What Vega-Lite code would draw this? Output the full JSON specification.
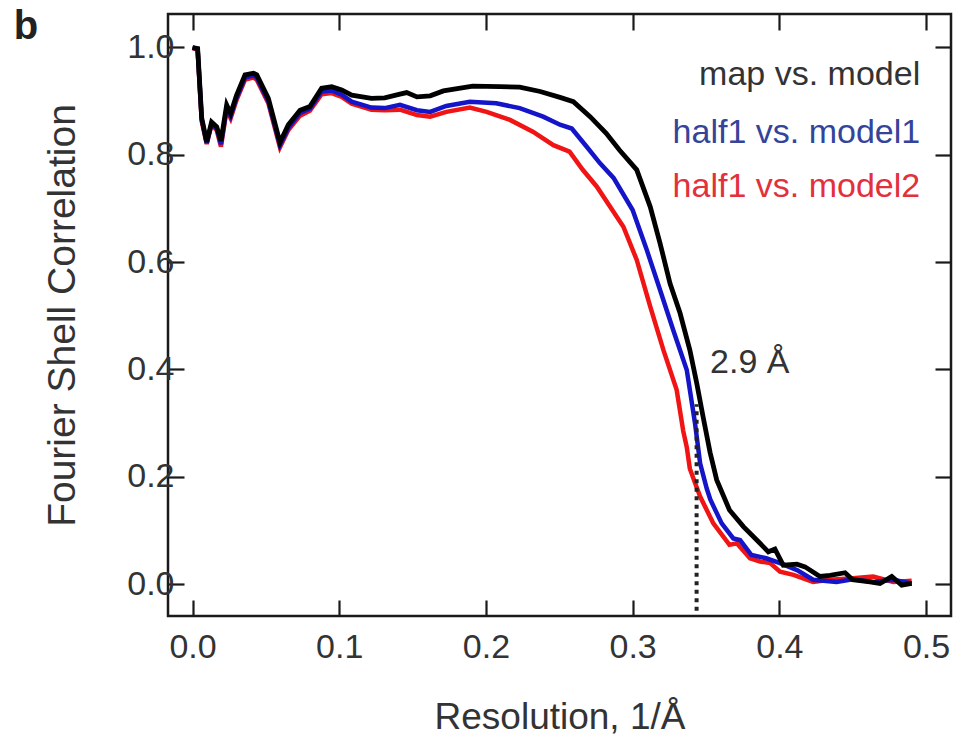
{
  "$schema": "https://vega.github.io/schema/vega-lite/v6.json",
  "width": 783,
  "height": 602,
  "autosize": {"type": "none"},
  "padding": {"left": 168, "top": 14, "right": 19, "bottom": 126},
  "background": "white",
  "config": {
    "view": {"stroke": "#1a1a1a", "strokeWidth": 2.5},
    "font": "Liberation Sans",
    "axis": {"grid": false, "domain": false, "tickColor": "#1a1a1a", "tickWidth": 2.2, "labelFont": "Liberation Sans", "titleFont": "Liberation Sans", "labelColor": "#333", "titleColor": "#333", "labelFontSize": 34, "titleFontSize": 36, "titleFontWeight": "normal"}
  },
  "datasets": {
    "fsc": [
      {"series": "map", "x": 0, "y": 1.0}, {"series": "map", "x": 0.0035, "y": 0.998}, {"series": "map", "x": 0.0063, "y": 0.868}, {"series": "map", "x": 0.0097, "y": 0.824}, {"series": "map", "x": 0.013, "y": 0.861}, {"series": "map", "x": 0.0165, "y": 0.852}, {"series": "map", "x": 0.0194, "y": 0.826}, {"series": "map", "x": 0.0233, "y": 0.893}, {"series": "map", "x": 0.026, "y": 0.877}, {"series": "map", "x": 0.03, "y": 0.911}, {"series": "map", "x": 0.0358, "y": 0.949}, {"series": "map", "x": 0.0415, "y": 0.952}, {"series": "map", "x": 0.0438, "y": 0.949}, {"series": "map", "x": 0.0517, "y": 0.905}, {"series": "map", "x": 0.0596, "y": 0.823}, {"series": "map", "x": 0.0653, "y": 0.856}, {"series": "map", "x": 0.0733, "y": 0.883}, {"series": "map", "x": 0.08, "y": 0.89}, {"series": "map", "x": 0.088, "y": 0.924}, {"series": "map", "x": 0.0949, "y": 0.927}, {"series": "map", "x": 0.1017, "y": 0.921}, {"series": "map", "x": 0.1085, "y": 0.911}, {"series": "map", "x": 0.122, "y": 0.905}, {"series": "map", "x": 0.131, "y": 0.906}, {"series": "map", "x": 0.1414, "y": 0.913}, {"series": "map", "x": 0.146, "y": 0.916}, {"series": "map", "x": 0.153, "y": 0.908}, {"series": "map", "x": 0.162, "y": 0.91}, {"series": "map", "x": 0.171, "y": 0.919}, {"series": "map", "x": 0.191, "y": 0.928}, {"series": "map", "x": 0.2096, "y": 0.927}, {"series": "map", "x": 0.223, "y": 0.926}, {"series": "map", "x": 0.237, "y": 0.918}, {"series": "map", "x": 0.2505, "y": 0.907}, {"series": "map", "x": 0.2596, "y": 0.899}, {"series": "map", "x": 0.271, "y": 0.871}, {"series": "map", "x": 0.282, "y": 0.84}, {"series": "map", "x": 0.291, "y": 0.809}, {"series": "map", "x": 0.3028, "y": 0.772}, {"series": "map", "x": 0.312, "y": 0.703}, {"series": "map", "x": 0.3187, "y": 0.635}, {"series": "map", "x": 0.3255, "y": 0.56}, {"series": "map", "x": 0.3323, "y": 0.505}, {"series": "map", "x": 0.339, "y": 0.436}, {"series": "map", "x": 0.3437, "y": 0.374}, {"series": "map", "x": 0.348, "y": 0.312}, {"series": "map", "x": 0.3528, "y": 0.245}, {"series": "map", "x": 0.3573, "y": 0.194}, {"series": "map", "x": 0.366, "y": 0.138}, {"series": "map", "x": 0.3755, "y": 0.107}, {"series": "map", "x": 0.3868, "y": 0.076}, {"series": "map", "x": 0.3925, "y": 0.06}, {"series": "map", "x": 0.397, "y": 0.065}, {"series": "map", "x": 0.4027, "y": 0.035}, {"series": "map", "x": 0.412, "y": 0.037}, {"series": "map", "x": 0.4175, "y": 0.032}, {"series": "map", "x": 0.4277, "y": 0.014}, {"series": "map", "x": 0.4345, "y": 0.016}, {"series": "map", "x": 0.4448, "y": 0.021}, {"series": "map", "x": 0.45, "y": 0.008}, {"series": "map", "x": 0.4618, "y": 0.004}, {"series": "map", "x": 0.4686, "y": 0.001}, {"series": "map", "x": 0.4766, "y": 0.014}, {"series": "map", "x": 0.4834, "y": -0.002}, {"series": "map", "x": 0.4902, "y": 0.001},

      {"series": "m1", "x": 0, "y": 1.0}, {"series": "m1", "x": 0.0035, "y": 0.997}, {"series": "m1", "x": 0.0063, "y": 0.866}, {"series": "m1", "x": 0.0097, "y": 0.822}, {"series": "m1", "x": 0.013, "y": 0.858}, {"series": "m1", "x": 0.0165, "y": 0.849}, {"series": "m1", "x": 0.0194, "y": 0.82}, {"series": "m1", "x": 0.0233, "y": 0.888}, {"series": "m1", "x": 0.026, "y": 0.872}, {"series": "m1", "x": 0.03, "y": 0.906}, {"series": "m1", "x": 0.0358, "y": 0.944}, {"series": "m1", "x": 0.0415, "y": 0.948}, {"series": "m1", "x": 0.0438, "y": 0.944}, {"series": "m1", "x": 0.0517, "y": 0.9}, {"series": "m1", "x": 0.0596, "y": 0.818}, {"series": "m1", "x": 0.0653, "y": 0.85}, {"series": "m1", "x": 0.0733, "y": 0.878}, {"series": "m1", "x": 0.08, "y": 0.886}, {"series": "m1", "x": 0.088, "y": 0.918}, {"series": "m1", "x": 0.0949, "y": 0.92}, {"series": "m1", "x": 0.1017, "y": 0.912}, {"series": "m1", "x": 0.1085, "y": 0.899}, {"series": "m1", "x": 0.122, "y": 0.888}, {"series": "m1", "x": 0.131, "y": 0.887}, {"series": "m1", "x": 0.1414, "y": 0.893}, {"series": "m1", "x": 0.153, "y": 0.883}, {"series": "m1", "x": 0.162, "y": 0.88}, {"series": "m1", "x": 0.173, "y": 0.891}, {"series": "m1", "x": 0.189, "y": 0.899}, {"series": "m1", "x": 0.207, "y": 0.896}, {"series": "m1", "x": 0.223, "y": 0.887}, {"series": "m1", "x": 0.239, "y": 0.871}, {"series": "m1", "x": 0.2505, "y": 0.856}, {"series": "m1", "x": 0.2585, "y": 0.849}, {"series": "m1", "x": 0.2687, "y": 0.815}, {"series": "m1", "x": 0.2778, "y": 0.784}, {"series": "m1", "x": 0.287, "y": 0.757}, {"series": "m1", "x": 0.3, "y": 0.697}, {"series": "m1", "x": 0.3096, "y": 0.623}, {"series": "m1", "x": 0.3187, "y": 0.548}, {"series": "m1", "x": 0.3277, "y": 0.473}, {"series": "m1", "x": 0.3369, "y": 0.399}, {"series": "m1", "x": 0.3425, "y": 0.3}, {"series": "m1", "x": 0.346, "y": 0.225}, {"series": "m1", "x": 0.3505, "y": 0.178}, {"series": "m1", "x": 0.353, "y": 0.157}, {"series": "m1", "x": 0.3607, "y": 0.113}, {"series": "m1", "x": 0.3686, "y": 0.085}, {"series": "m1", "x": 0.3732, "y": 0.082}, {"series": "m1", "x": 0.381, "y": 0.054}, {"series": "m1", "x": 0.391, "y": 0.048}, {"series": "m1", "x": 0.4005, "y": 0.039}, {"series": "m1", "x": 0.412, "y": 0.026}, {"series": "m1", "x": 0.423, "y": 0.008}, {"series": "m1", "x": 0.439, "y": 0.004}, {"series": "m1", "x": 0.45, "y": 0.009}, {"series": "m1", "x": 0.464, "y": 0.004}, {"series": "m1", "x": 0.4777, "y": 0.008}, {"series": "m1", "x": 0.4902, "y": 0.001},

      {"series": "m2", "x": 0, "y": 0.999}, {"series": "m2", "x": 0.0035, "y": 0.996}, {"series": "m2", "x": 0.0063, "y": 0.862}, {"series": "m2", "x": 0.0097, "y": 0.82}, {"series": "m2", "x": 0.013, "y": 0.856}, {"series": "m2", "x": 0.0165, "y": 0.846}, {"series": "m2", "x": 0.0194, "y": 0.815}, {"series": "m2", "x": 0.0233, "y": 0.884}, {"series": "m2", "x": 0.026, "y": 0.868}, {"series": "m2", "x": 0.03, "y": 0.902}, {"series": "m2", "x": 0.0358, "y": 0.94}, {"series": "m2", "x": 0.0415, "y": 0.944}, {"series": "m2", "x": 0.0438, "y": 0.94}, {"series": "m2", "x": 0.0517, "y": 0.896}, {"series": "m2", "x": 0.0596, "y": 0.814}, {"series": "m2", "x": 0.0653, "y": 0.846}, {"series": "m2", "x": 0.0733, "y": 0.873}, {"series": "m2", "x": 0.08, "y": 0.882}, {"series": "m2", "x": 0.088, "y": 0.913}, {"series": "m2", "x": 0.0949, "y": 0.915}, {"series": "m2", "x": 0.1017, "y": 0.908}, {"series": "m2", "x": 0.1085, "y": 0.895}, {"series": "m2", "x": 0.122, "y": 0.884}, {"series": "m2", "x": 0.131, "y": 0.883}, {"series": "m2", "x": 0.1414, "y": 0.884}, {"series": "m2", "x": 0.153, "y": 0.874}, {"series": "m2", "x": 0.162, "y": 0.871}, {"series": "m2", "x": 0.173, "y": 0.88}, {"series": "m2", "x": 0.189, "y": 0.888}, {"series": "m2", "x": 0.2005, "y": 0.88}, {"series": "m2", "x": 0.2164, "y": 0.865}, {"series": "m2", "x": 0.232, "y": 0.843}, {"series": "m2", "x": 0.246, "y": 0.818}, {"series": "m2", "x": 0.257, "y": 0.806}, {"series": "m2", "x": 0.266, "y": 0.772}, {"series": "m2", "x": 0.2755, "y": 0.741}, {"series": "m2", "x": 0.2937, "y": 0.666}, {"series": "m2", "x": 0.3028, "y": 0.604}, {"series": "m2", "x": 0.312, "y": 0.517}, {"series": "m2", "x": 0.321, "y": 0.436}, {"series": "m2", "x": 0.33, "y": 0.362}, {"series": "m2", "x": 0.3345, "y": 0.285}, {"series": "m2", "x": 0.3369, "y": 0.255}, {"series": "m2", "x": 0.339, "y": 0.215}, {"series": "m2", "x": 0.3437, "y": 0.18}, {"series": "m2", "x": 0.346, "y": 0.163}, {"series": "m2", "x": 0.355, "y": 0.113}, {"series": "m2", "x": 0.366, "y": 0.073}, {"series": "m2", "x": 0.371, "y": 0.076}, {"series": "m2", "x": 0.38, "y": 0.048}, {"series": "m2", "x": 0.3868, "y": 0.042}, {"series": "m2", "x": 0.3937, "y": 0.039}, {"series": "m2", "x": 0.4005, "y": 0.023}, {"series": "m2", "x": 0.4096, "y": 0.017}, {"series": "m2", "x": 0.423, "y": 0.004}, {"series": "m2", "x": 0.4345, "y": 0.008}, {"series": "m2", "x": 0.45, "y": 0.011}, {"series": "m2", "x": 0.464, "y": 0.014}, {"series": "m2", "x": 0.4777, "y": 0.004}, {"series": "m2", "x": 0.4902, "y": 0.006}
    ]
  },
  "layer": [
    {
      "data": {"name": "fsc"},
      "transform": [{"filter": "datum.series === 'm2'"}],
      "mark": {"type": "line", "color": "#f01414", "strokeWidth": 4.5},
      "encoding": {
        "x": {"field": "x", "type": "quantitative", "scale": {"domain": [-0.0167, 0.517], "nice": false, "zero": false},
          "axis": {"orient": "bottom", "values": [0, 0.1, 0.2, 0.3, 0.4, 0.5], "format": ".1f", "tickSize": -16, "labelPadding": 30, "title": "Resolution, 1/Å", "titlePadding": 35, "titleFontSize": 37}},
        "y": {"field": "y", "type": "quantitative", "scale": {"domain": [-0.0596, 1.0624], "nice": false, "zero": false},
          "axis": {"orient": "left", "values": [0, 0.2, 0.4, 0.6, 0.8, 1.0], "format": ".1f", "tickSize": -16, "labelPadding": 10, "title": "Fourier Shell Correlation", "titlePadding": 44, "titleFontSize": 39}}
      }
    },
    {
      "data": {"name": "fsc"},
      "transform": [{"filter": "datum.series === 'm1'"}],
      "mark": {"type": "line", "color": "#1414c8", "strokeWidth": 4.5},
      "encoding": {
        "x": {"field": "x", "type": "quantitative", "axis": null},
        "y": {"field": "y", "type": "quantitative", "axis": null}
      }
    },
    {
      "data": {"name": "fsc"},
      "transform": [{"filter": "datum.series === 'map'"}],
      "mark": {"type": "line", "color": "#000000", "strokeWidth": 4.8},
      "encoding": {
        "x": {"field": "x", "type": "quantitative",
          "axis": {"orient": "top", "values": [0, 0.1, 0.2, 0.3, 0.4, 0.5], "labels": false, "tickSize": -16, "title": null}},
        "y": {"field": "y", "type": "quantitative",
          "axis": {"orient": "right", "values": [0, 0.2, 0.4, 0.6, 0.8, 1.0], "labels": false, "tickSize": -16, "title": null}}
      }
    },
    {
      "data": {"values": [{"x": 0.3436, "y": -0.05, "y2": 0.335}]},
      "mark": {"type": "rule", "color": "#222", "strokeWidth": 4, "strokeDash": [4, 4.5]},
      "encoding": {
        "x": {"field": "x", "type": "quantitative", "axis": null},
        "y": {"field": "y", "type": "quantitative", "axis": null},
        "y2": {"field": "y2"}
      }
    },
    {
      "data": {"values": [{"x": 0.3528, "y": 0.393, "label": "2.9 Å"}]},
      "mark": {"type": "text", "align": "left", "baseline": "alphabetic", "fontSize": 34, "color": "#333"},
      "encoding": {
        "x": {"field": "x", "type": "quantitative", "axis": null},
        "y": {"field": "y", "type": "quantitative", "axis": null},
        "text": {"field": "label"}
      }
    },
    {
      "data": {"values": [{"x": 0.496, "y": 0.93, "label": "map vs. model"}]},
      "mark": {"type": "text", "align": "right", "baseline": "alphabetic", "fontSize": 34, "color": "#333333"},
      "encoding": {
        "x": {"field": "x", "type": "quantitative", "axis": null},
        "y": {"field": "y", "type": "quantitative", "axis": null},
        "text": {"field": "label"}
      }
    },
    {
      "data": {"values": [{"x": 0.496, "y": 0.8226, "label": "half1 vs. model1"}]},
      "mark": {"type": "text", "align": "right", "baseline": "alphabetic", "fontSize": 34, "color": "#34449a"},
      "encoding": {
        "x": {"field": "x", "type": "quantitative", "axis": null},
        "y": {"field": "y", "type": "quantitative", "axis": null},
        "text": {"field": "label"}
      }
    },
    {
      "data": {"values": [{"x": 0.496, "y": 0.722, "label": "half1 vs. model2"}]},
      "mark": {"type": "text", "align": "right", "baseline": "alphabetic", "fontSize": 34, "color": "#e2303c"},
      "encoding": {
        "x": {"field": "x", "type": "quantitative", "axis": null},
        "y": {"field": "y", "type": "quantitative", "axis": null},
        "text": {"field": "label"}
      }
    },
    {
      "data": {"values": [{"x": -0.1135, "y": 1.038, "label": "b"}]},
      "mark": {"type": "text", "align": "center", "baseline": "middle", "fontSize": 40, "fontWeight": "bold", "font": "Liberation Sans", "color": "#222"},
      "encoding": {
        "x": {"field": "x", "type": "quantitative", "axis": null},
        "y": {"field": "y", "type": "quantitative", "axis": null},
        "text": {"field": "label"}
      }
    }
  ],
  "resolve": {"axis": {"x": "independent", "y": "independent"}}
}
